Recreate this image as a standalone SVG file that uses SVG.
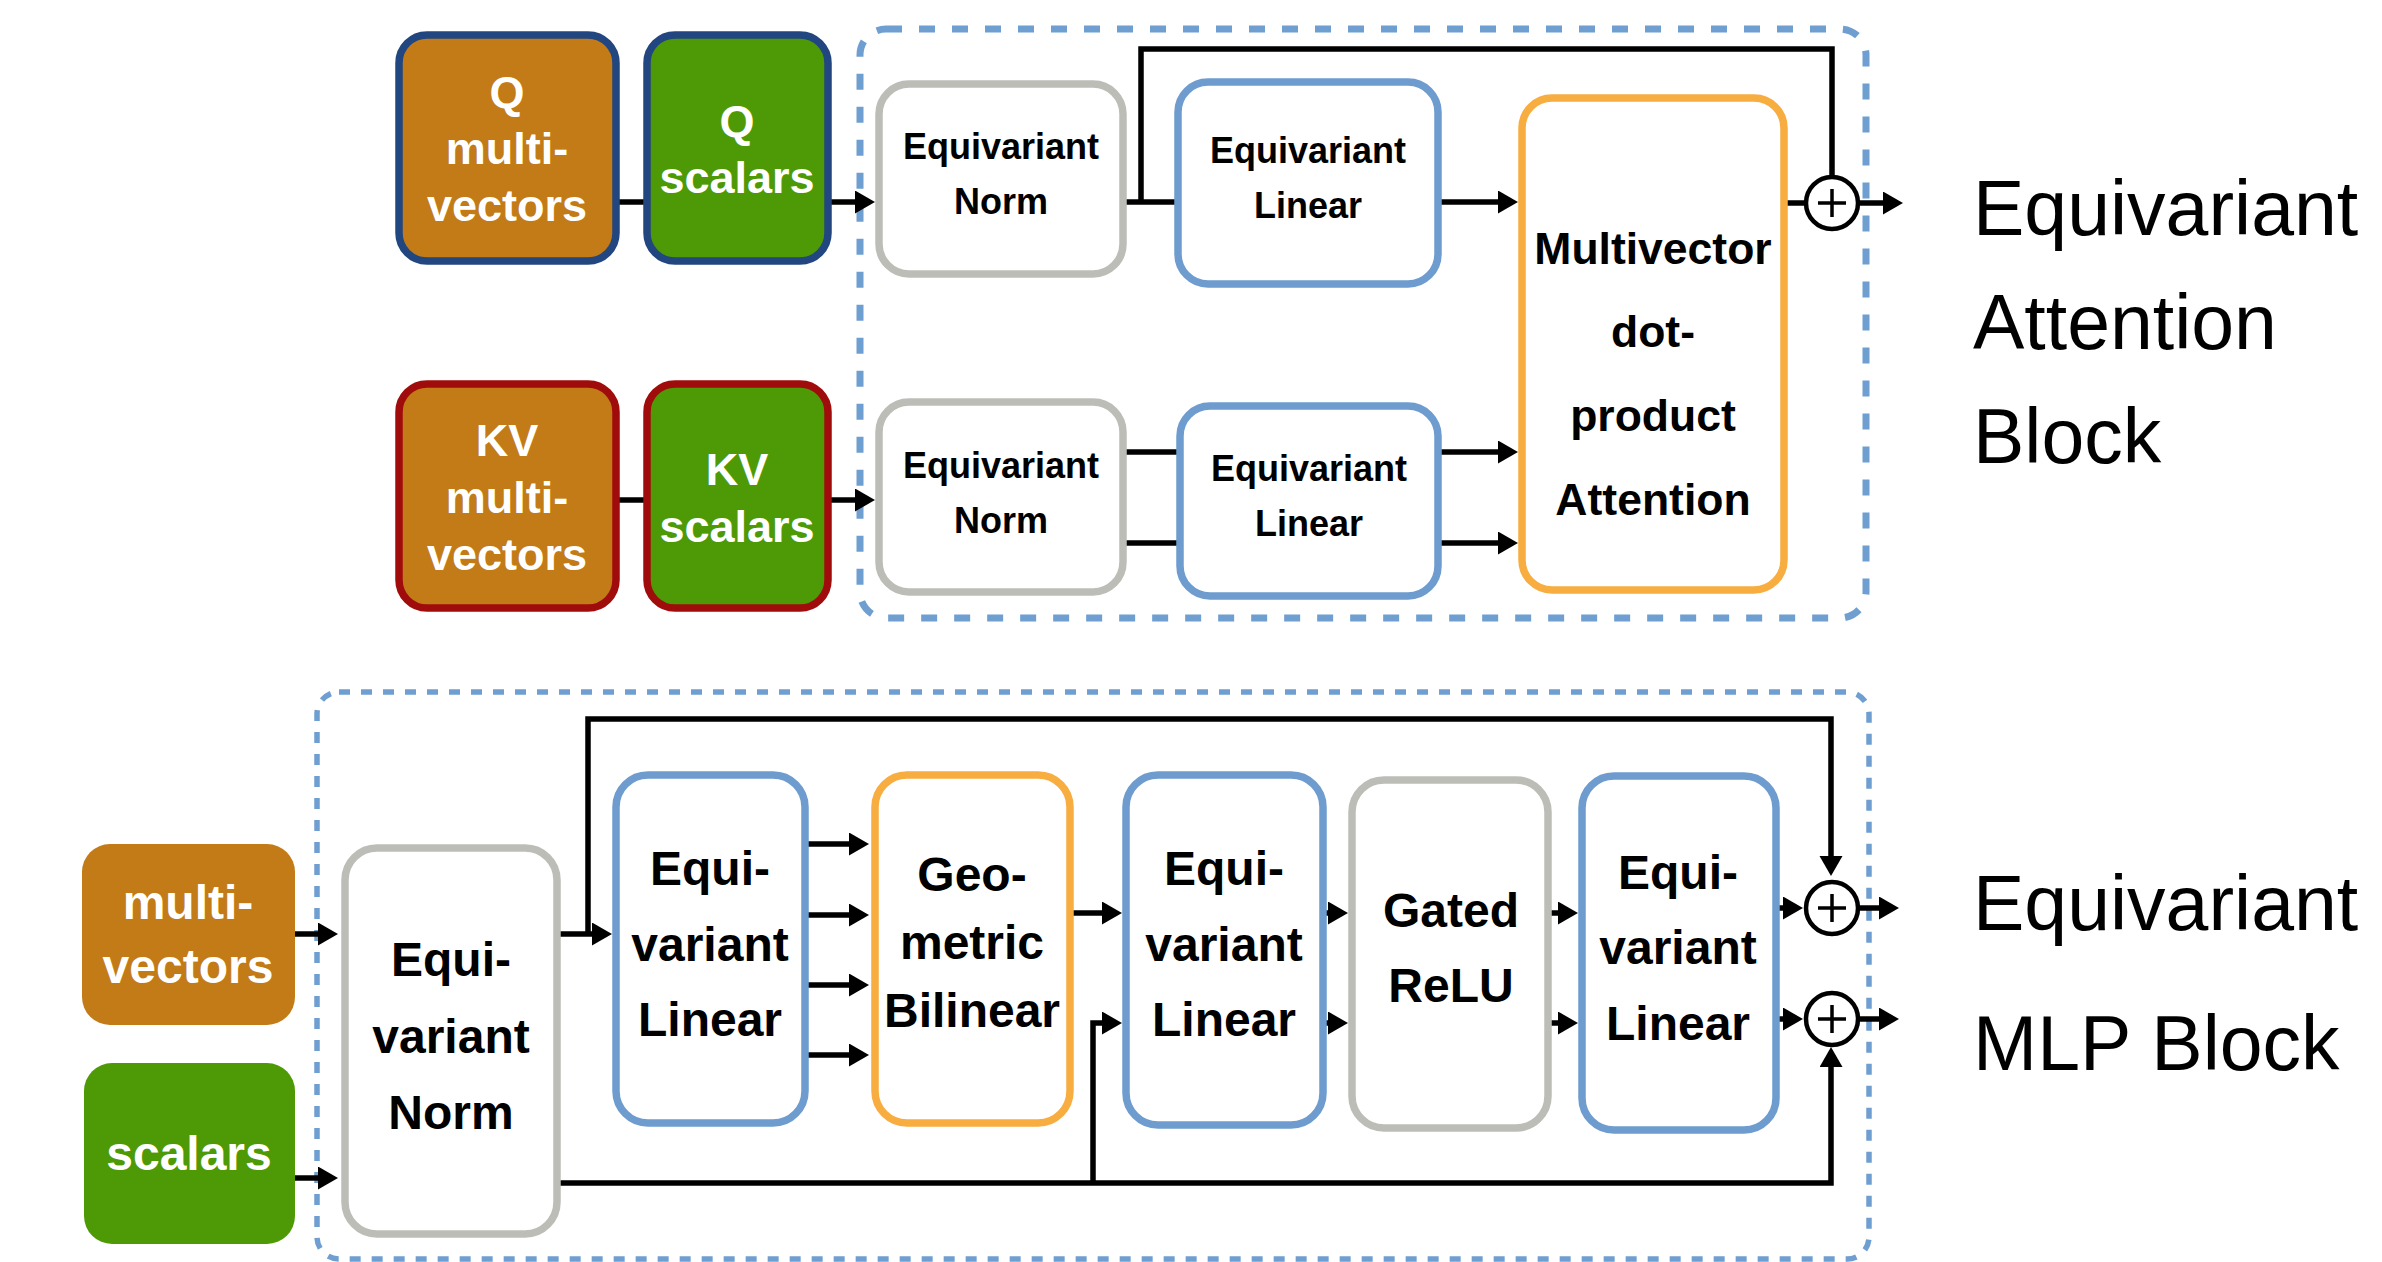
<svg xmlns="http://www.w3.org/2000/svg" width="2382" height="1262" viewBox="0 0 2382 1262">
<defs>
<marker id="ah" markerUnits="userSpaceOnUse" markerWidth="22" markerHeight="24" refX="10" refY="11.5" orient="auto">
<path d="M0,0 L20,11.5 L0,23 Z" fill="#000"/>
</marker>
</defs>
<style>
.bg{fill:#fff}
.dashA{fill:none;stroke:#6f9fd1;stroke-width:7;stroke-dasharray:16 17}
.dashB{fill:none;stroke:#6f9fd1;stroke-width:5.5;stroke-dasharray:11 11}
.grey{fill:#fff;stroke:#bdbdb8;stroke-width:7.5}
.blue{fill:#fff;stroke:#6e9ccf;stroke-width:7.5}
.orange{fill:#fff;stroke:#f8ad40;stroke-width:7.5}
.mv{fill:#c27b16}
.sc{fill:#4e9a06}
.qb{stroke:#22467f;stroke-width:7.5}
.kb{stroke:#a00c0c;stroke-width:7.5}
.t{font-family:"Liberation Sans",Arial,sans-serif;font-weight:bold;text-anchor:middle;fill:#000}
.w{fill:#fff}
.s36{font-size:36px}
.s45{font-size:45px}
.s44{font-size:44.5px}
.s48{font-size:48px}
.lbl{font-family:"Liberation Sans",Arial,sans-serif;font-weight:300;font-size:77px;fill:#000}
.c{fill:none;stroke:#000;stroke-width:5.5}
.a{fill:none;stroke:#000;stroke-width:5.5;marker-end:url(#ah)}
.circ{fill:#fff;stroke:#000;stroke-width:4.5}
.plus{stroke:#000;stroke-width:3.5}
</style>
<rect class="bg" x="0" y="0" width="2382" height="1262"/>

<g id="attention-block-frame"><rect class="dashA" x="860" y="29" width="1006" height="589" rx="26"/></g>
<g id="mlp-block-frame"><rect class="dashB" x="317" y="692" width="1552" height="567" rx="22"/></g>

<g id="connectors">
<path class="c" d="M616,202 H647"/>
<path class="a" d="M828,202 H865"/>
<path class="c" d="M616,500 H647"/>
<path class="a" d="M828,500 H865"/>
<path class="c" d="M1123,202 H1178"/>
<path class="c" d="M1141,202 V49 H1832 V177"/>
<path class="a" d="M1438,202 H1508"/>
<path class="c" d="M1784,203 H1806"/>
<path class="a" d="M1858,203 H1893"/>
<path class="c" d="M1123,452 H1180"/>
<path class="c" d="M1123,543 H1180"/>
<path class="a" d="M1438,452 H1508"/>
<path class="a" d="M1438,543 H1508"/>

<path class="a" d="M295,934 H328"/>
<path class="a" d="M295,1178 H328"/>
<path class="a" d="M557,934 H602"/>
<path class="a" d="M588,934 V719 H1831 V866"/>
<path class="a" d="M557,1183 H1831 V1057"/>
<path class="a" d="M1093,1183 V1023 H1112"/>
<path class="a" d="M805,844 H859"/>
<path class="a" d="M805,915 H859"/>
<path class="a" d="M805,985 H859"/>
<path class="a" d="M805,1055 H859"/>
<path class="a" d="M1070,913 H1112"/>
<path class="a" d="M1323,913 H1338"/>
<path class="a" d="M1323,1023 H1338"/>
<path class="a" d="M1549,913 H1568"/>
<path class="a" d="M1549,1023 H1568"/>
<path class="a" d="M1776,908 H1793"/>
<path class="a" d="M1776,1019 H1793"/>
<path class="a" d="M1859,908 H1889"/>
<path class="a" d="M1859,1019 H1889"/>
</g>

<g id="q-multivectors">
<rect class="mv qb" x="399" y="35" width="217" height="226" rx="28"/>
<text class="t w s45"><tspan x="507" y="108">Q</tspan><tspan x="507" y="164">multi-</tspan><tspan x="507" y="221">vectors</tspan></text>
</g>
<g id="q-scalars">
<rect class="sc qb" x="647" y="35" width="181" height="226" rx="28"/>
<text class="t w s45"><tspan x="737" y="137">Q</tspan><tspan x="737" y="193">scalars</tspan></text>
</g>
<g id="kv-multivectors">
<rect class="mv kb" x="399" y="384" width="217" height="224" rx="28"/>
<text class="t w s45"><tspan x="507" y="456">KV</tspan><tspan x="507" y="513">multi-</tspan><tspan x="507" y="570">vectors</tspan></text>
</g>
<g id="kv-scalars">
<rect class="sc kb" x="647" y="384" width="181" height="224" rx="28"/>
<text class="t w s45"><tspan x="737" y="485">KV</tspan><tspan x="737" y="542">scalars</tspan></text>
</g>
<g id="q-norm">
<rect class="grey" x="879" y="84" width="244" height="190" rx="30"/>
<text class="t s36"><tspan x="1001" y="159">Equivariant</tspan><tspan x="1001" y="214">Norm</tspan></text>
</g>
<g id="kv-norm">
<rect class="grey" x="879" y="402" width="244" height="190" rx="30"/>
<text class="t s36"><tspan x="1001" y="478">Equivariant</tspan><tspan x="1001" y="533">Norm</tspan></text>
</g>
<g id="q-linear">
<rect class="blue" x="1178" y="82" width="260" height="202" rx="30"/>
<text class="t s36"><tspan x="1308" y="163">Equivariant</tspan><tspan x="1308" y="218">Linear</tspan></text>
</g>
<g id="kv-linear">
<rect class="blue" x="1180" y="406" width="258" height="190" rx="30"/>
<text class="t s36"><tspan x="1309" y="481">Equivariant</tspan><tspan x="1309" y="536">Linear</tspan></text>
</g>
<g id="attention">
<rect class="orange" x="1522" y="98" width="262" height="492" rx="30"/>
<text class="t s44"><tspan x="1653" y="264">Multivector</tspan><tspan x="1653" y="347">dot-</tspan><tspan x="1653" y="431">product</tspan><tspan x="1653" y="515">Attention</tspan></text>
</g>
<g id="attn-sum">
<circle class="circ" cx="1832" cy="203" r="26"/>
<path class="plus" d="M1818,203 H1846 M1832,189 V217"/>
</g>
<g id="attention-label">
<text class="lbl"><tspan x="1973" y="235">Equivariant</tspan><tspan x="1973" y="349">Attention</tspan><tspan x="1973" y="463">Block</tspan></text>
</g>

<g id="multivectors">
<rect class="mv" x="82" y="844" width="213" height="181" rx="28"/>
<text class="t w s48"><tspan x="188" y="919">multi-</tspan><tspan x="188" y="983">vectors</tspan></text>
</g>
<g id="scalars">
<rect class="sc" x="84" y="1063" width="211" height="181" rx="28"/>
<text class="t w s48" x="189" y="1170">scalars</text>
</g>
<g id="mlp-norm">
<rect class="grey" x="345" y="848" width="212" height="386" rx="32"/>
<text class="t s48"><tspan x="451" y="976">Equi-</tspan><tspan x="451" y="1053">variant</tspan><tspan x="451" y="1129">Norm</tspan></text>
</g>
<g id="mlp-linear-1">
<rect class="blue" x="616" y="775" width="189" height="348" rx="32"/>
<text class="t s48"><tspan x="710" y="885">Equi-</tspan><tspan x="710" y="961">variant</tspan><tspan x="710" y="1036">Linear</tspan></text>
</g>
<g id="geometric-bilinear">
<rect class="orange" x="875" y="775" width="195" height="348" rx="32"/>
<text class="t s48"><tspan x="972" y="891">Geo-</tspan><tspan x="972" y="959">metric</tspan><tspan x="972" y="1027">Bilinear</tspan></text>
</g>
<g id="mlp-linear-2">
<rect class="blue" x="1126" y="775" width="197" height="350" rx="32"/>
<text class="t s48"><tspan x="1224" y="885">Equi-</tspan><tspan x="1224" y="961">variant</tspan><tspan x="1224" y="1036">Linear</tspan></text>
</g>
<g id="gated-relu">
<rect class="grey" x="1352" y="780" width="196" height="348" rx="32"/>
<text class="t s48"><tspan x="1451" y="927">Gated</tspan><tspan x="1451" y="1002">ReLU</tspan></text>
</g>
<g id="mlp-linear-3">
<rect class="blue" x="1582" y="776" width="194" height="354" rx="32"/>
<text class="t s48"><tspan x="1678" y="889">Equi-</tspan><tspan x="1678" y="964">variant</tspan><tspan x="1678" y="1040">Linear</tspan></text>
</g>
<g id="mlp-sum-1">
<circle class="circ" cx="1832" cy="908" r="26"/>
<path class="plus" d="M1818,908 H1846 M1832,894 V922"/>
</g>
<g id="mlp-sum-2">
<circle class="circ" cx="1832" cy="1019" r="26"/>
<path class="plus" d="M1818,1019 H1846 M1832,1005 V1033"/>
</g>
<g id="mlp-label">
<text class="lbl"><tspan x="1973" y="930">Equivariant</tspan><tspan x="1973" y="1070">MLP Block</tspan></text>
</g>
</svg>
